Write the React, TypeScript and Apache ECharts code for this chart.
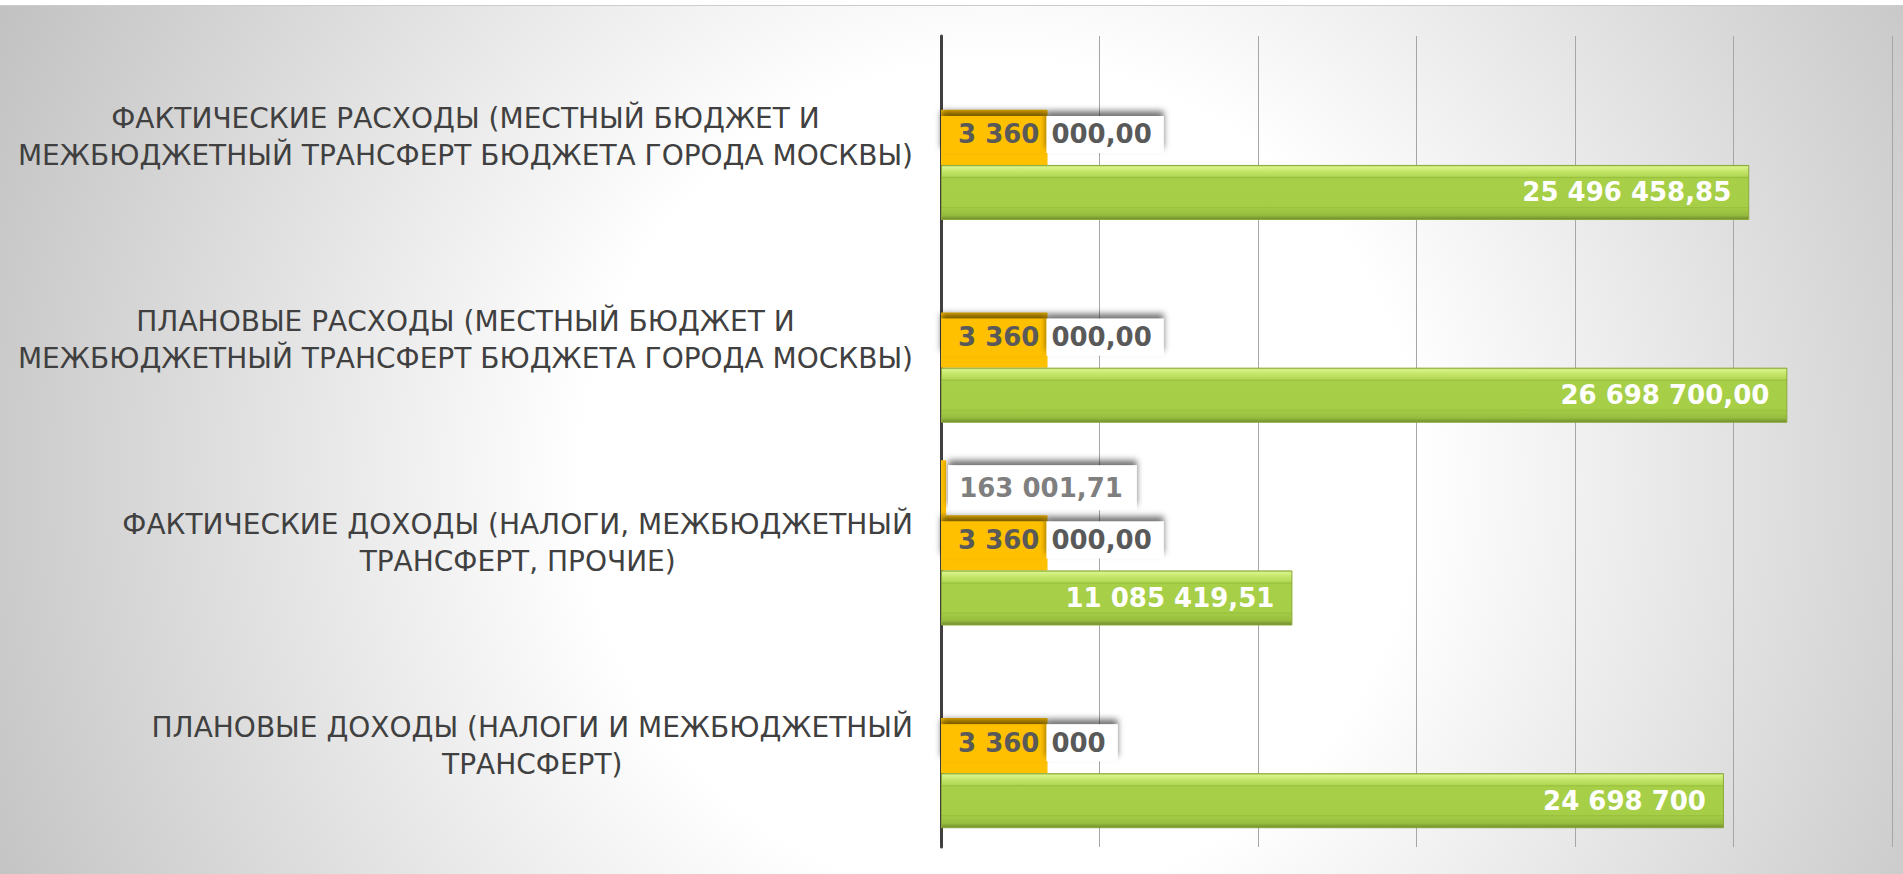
import React, { useEffect, useRef } from 'react';
import * as echarts from 'echarts';

// Categories listed bottom → top (category axis runs upward)
const categories = [
  'ПЛАНОВЫЕ ДОХОДЫ (НАЛОГИ И МЕЖБЮДЖЕТНЫЙ\nТРАНСФЕРТ)',
  'ФАКТИЧЕСКИЕ ДОХОДЫ (НАЛОГИ, МЕЖБЮДЖЕТНЫЙ\nТРАНСФЕРТ, ПРОЧИЕ)',
  'ПЛАНОВЫЕ РАСХОДЫ (МЕСТНЫЙ БЮДЖЕТ И\nМЕЖБЮДЖЕТНЫЙ ТРАНСФЕРТ БЮДЖЕТА ГОРОДА МОСКВЫ)',
  'ФАКТИЧЕСКИЕ РАСХОДЫ (МЕСТНЫЙ БЮДЖЕТ И\nМЕЖБЮДЖЕТНЫЙ ТРАНСФЕРТ БЮДЖЕТА ГОРОДА МОСКВЫ)',
];
const otherValues: (number | null)[] = [null, 163001.71, null, null];
const transferValues = [3360000, 3360000, 3360000, 3360000];
const mainValues = [24698700, 11085419.51, 26698700, 25496458.85];
const otherDecimals = [2, 2, 2, 2];
const transferDecimals = [0, 2, 2, 2];
const mainDecimals = [0, 2, 2, 2];
const axisMin = 0;
const axisMax = 30000000;
const axisStep = 5000000;

const FONT = '"DejaVu Sans", sans-serif';

function fmt(v: number, dec: number): string {
  const fixed = v.toFixed(dec);
  const [intPart, frac] = fixed.split('.');
  const grouped = intPart.replace(/\B(?=(\d{3})+(?!\d))/g, ' ');
  return frac ? `${grouped},${frac}` : grouped;
}

const boxShadow = {
  shadowColor: 'rgba(0,0,0,0.55)',
  shadowBlur: 6,
  shadowOffsetX: 0,
  shadowOffsetY: -5,
};

export default function App() {
  const ref = useRef<HTMLDivElement>(null);

  useEffect(() => {
    if (!ref.current) return;
    const chart = echarts.init(ref.current, null, { renderer: 'svg' });

    const greenFill = new echarts.graphic.LinearGradient(0, 0, 0, 1, [
      { offset: 0, color: '#a9cf4a' },
      { offset: 0.03, color: '#d9f38c' },
      { offset: 0.09, color: '#c8e86f' },
      { offset: 0.2, color: '#b2d856' },
      { offset: 0.225, color: '#98bf3c' },
      { offset: 0.245, color: '#a7cf48' },
      { offset: 0.76, color: '#a6ce47' },
      { offset: 0.775, color: '#98bf3d' },
      { offset: 0.8, color: '#a3cb45' },
      { offset: 0.92, color: '#97bc3e' },
      { offset: 1, color: '#6f8a2f' },
    ]);

    const bg = new echarts.graphic.RadialGradient(
      1000,
      480,
      1100,
      [
        { offset: 0, color: '#ffffff' },
        { offset: 0.38, color: '#ffffff' },
        { offset: 1, color: '#c2c2c2' },
      ],
      true
    );

    const option: any = {
      animation: false,
      backgroundColor: '#ffffff',
      graphic: {
        elements: [
          {
            type: 'rect',
            z: -10,
            silent: true,
            shape: { x: 0, y: 6, width: 1903, height: 868 },
            style: { fill: bg },
          },
          {
            type: 'line',
            z: -9,
            silent: true,
            shape: { x1: 0, y1: 5.5, x2: 1903, y2: 5.5 },
            style: { stroke: '#cdcdcd', lineWidth: 1 },
          },
        ],
      },
      grid: { left: 941, right: 11, top: 36, bottom: 27, containLabel: false },
      xAxis: {
        type: 'value',
        min: axisMin,
        max: axisMax,
        interval: axisStep,
        axisLabel: { show: false },
        axisLine: { show: false },
        axisTick: { show: false },
        splitLine: { show: true, lineStyle: { color: '#a6a6a6', width: 1 } },
      },
      yAxis: {
        type: 'category',
        data: categories,
        axisLine: { show: true, lineStyle: { color: '#404040', width: 3 } },
        axisTick: { show: false },
        axisLabel: {
          margin: 28,
          align: 'right',
          formatter: (v: string) =>
            v
              .split('\n')
              .map((l) => `{c|${l}}`)
              .join('\n'),
          rich: {
            c: {
              align: 'center',
              fontFamily: FONT,
              fontSize: 28,
              lineHeight: 37,
              color: '#404040',
            },
          },
        },
      },
      series: [
        {
          name: 'Прочие',
          type: 'bar',
          barGap: '0%',
          barCategoryGap: '18.5%',
          data: otherValues,
          itemStyle: { color: '#FFC000' },
          label: {
            show: true,
            position: 'right',
            distance: 2,
            formatter: (p: any) =>
              p.value == null ? '' : fmt(p.value, otherDecimals[p.dataIndex]),
            fontFamily: FONT,
            fontSize: 26,
            fontWeight: 'bold',
            color: '#7f7f7f',
            backgroundColor: '#ffffff',
            padding: [7, 14, 7, 11],
            lineHeight: 31,
            ...boxShadow,
          },
        },
        {
          name: 'Межбюджетный трансферт',
          type: 'bar',
          barGap: '0%',
          barCategoryGap: '18.5%',
          data: transferValues,
          itemStyle: { color: '#FFC000' },
          label: {
            show: true,
            position: 'insideLeft',
            distance: 0,
            offset: [0, -3],
            formatter: (p: any) => {
              const s = fmt(p.value, transferDecimals[p.dataIndex]);
              const parts = s.split(' ');
              const a = parts.slice(0, 2).join(' ');
              const b = parts.slice(2).join(' ');
              return `{a|${a}}{b|${b}}`;
            },
            rich: {
              a: {
                fontFamily: FONT,
                fontSize: 26,
                fontWeight: 'bold',
                color: '#595959',
                backgroundColor: '#FFC000',
                padding: [0, 7, 0, 17],
                height: 37,
                lineHeight: 37,
                ...boxShadow,
              },
              b: {
                fontFamily: FONT,
                fontSize: 26,
                fontWeight: 'bold',
                color: '#595959',
                backgroundColor: '#ffffff',
                padding: [0, 12, 0, 5],
                height: 37,
                lineHeight: 37,
                ...boxShadow,
              },
            },
          },
        },
        {
          name: 'Основные',
          type: 'bar',
          barGap: '0%',
          barCategoryGap: '18.5%',
          data: mainValues,
          itemStyle: {
            color: greenFill,
            borderColor: '#8aab38',
            borderWidth: 1,
          },
          label: {
            show: true,
            position: 'insideRight',
            distance: 18,
            formatter: (p: any) => fmt(p.value, mainDecimals[p.dataIndex]),
            fontFamily: FONT,
            fontSize: 26,
            fontWeight: 'bold',
            color: '#ffffff',
          },
        },
      ],
    };

    chart.setOption(option);
    return () => chart.dispose();
  }, []);

  return (
    <div
      ref={ref}
      style={{ position: 'absolute', left: 0, top: 0, width: 1903, height: 874 }}
    />
  );
}
